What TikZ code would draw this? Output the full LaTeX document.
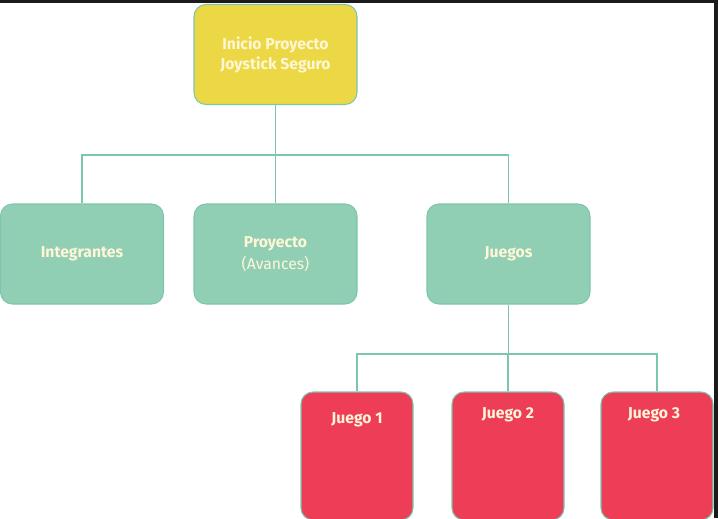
\documentclass[tikz,border=0pt]{standalone}
\usepackage{fontspec}
\setmainfont{Fira Sans}
\definecolor{ytop}{HTML}{ECD844}
\definecolor{teal}{HTML}{91CFB5}
\definecolor{tealline}{HTML}{7DC6AE}
\definecolor{redbox}{HTML}{EE3E57}
\definecolor{txt}{HTML}{FFF6D6}
\definecolor{frame}{HTML}{1B1B1B}
\begin{document}
\begin{tikzpicture}[x=0.75pt,y=-0.75pt,
  lbl/.style={text=txt, font=\bfseries\fontsize{11.8}{15}\selectfont},
  box/.style={draw=tealline, line width=0.8pt, rounded corners=9pt, inner sep=0pt, align=center, lbl},
  wide/.style={box, minimum width=163*0.75pt, minimum height=100*0.75pt},
  tall/.style={box, minimum width=112*0.75pt, minimum height=128*0.75pt, fill=redbox},
  conn/.style={draw=tealline, line width=0.8pt}]
\useasboundingbox (0,0) rectangle (718,518);
\fill[white] (0,0) rectangle (718,518);
% nodes
\node[wide, fill=ytop] (top) at (275.5,54.5) {Inicio Proyecto\\Joystick Seguro};
\node[wide, fill=teal] (int) at (82,254) {Integrantes};
\node[wide, fill=teal, font=\bfseries\fontsize{11.8}{16.5}\selectfont] (pro) at (275.5,254) {Proyecto\\{\mdseries (Avances)}};
\node[wide, fill=teal] (jue) at (508.5,254) {Juegos};
\node[tall] (j1) at (357,456) {};
\node[tall] (j2) at (508,456) {};
\node[tall] (j3) at (657,456) {};
\node[lbl] (t1) at (357,420) {Juego 1};
\node[lbl] (t2) at (508,415) {Juego 2};
\node[lbl] (t3) at (654,415) {Juego 3};
% connectors
\coordinate (b1) at (275.5,155);
\draw[conn] (top.south) -- (b1);
\draw[conn] (int.north) |- (b1);
\draw[conn] (pro.north) -- (b1);
\draw[conn] (jue.north) |- (b1);
\coordinate (b2) at (508.5,354);
\draw[conn] (jue.south) -- (b2);
\draw[conn] (j1.north) |- (b2);
\draw[conn] (j2.north) -- (j2.north |- b2);
\draw[conn] (j3.north) |- (b2);
% screenshot frame
\fill[frame] (0,0) rectangle (718,3);
\fill[frame] (714,0) rectangle (718,518);
\end{tikzpicture}
\end{document}
